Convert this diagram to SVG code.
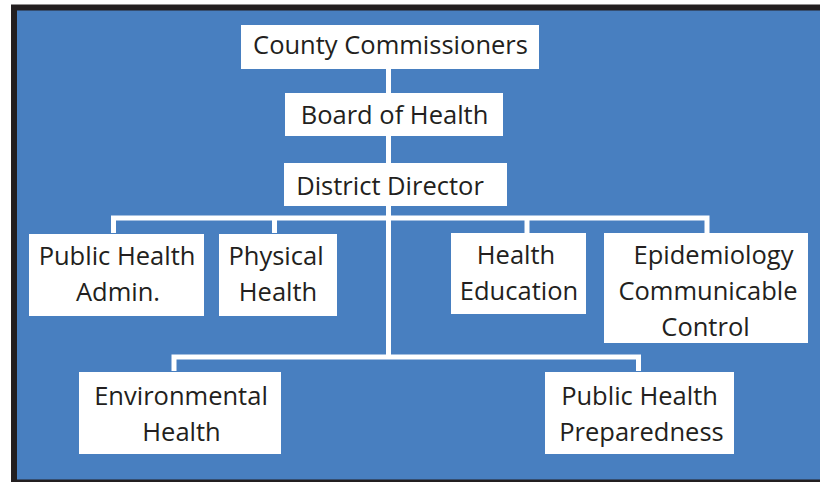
<svg xmlns="http://www.w3.org/2000/svg" width="820" height="482" viewBox="0 0 820 482">
<style>
.box{fill:#ffffff}
.t{font-family:"Open Sans","Noto Sans",sans-serif;font-size:25.5px;fill:#231F20;text-anchor:middle}
.c{fill:none;stroke:#ffffff;stroke-width:5;stroke-linejoin:miter;stroke-linecap:butt}
</style>
<rect x="14" y="7.5" width="820" height="475" fill="#487FC0" stroke="#231F20" stroke-width="6"/>
<g id="connectors">
<path class="c" d="M388.5 69 V93"/>
<path class="c" d="M388.5 136 V163"/>
<path class="c" d="M388.5 206 V357"/>
<path class="c" d="M113.5 233 V218 H707 V233"/>
<path class="c" d="M274.5 218 V233"/>
<path class="c" d="M527 218 V233"/>
<path class="c" d="M174 371 V357 H638.5 V371"/>
</g>
<g id="county">
<rect class="box" x="241" y="25" width="298" height="44"/>
<text class="t" x="390.5" y="54">County Commissioners</text>
</g>
<g id="board">
<rect class="box" x="285" y="93" width="218" height="43"/>
<text class="t" x="394.5" y="124">Board of Health</text>
</g>
<g id="director">
<rect class="box" x="284" y="163" width="223" height="43"/>
<text class="t" x="390" y="195">District Director</text>
</g>
<g id="ph-admin">
<rect class="box" x="29" y="234" width="175" height="82"/>
<text class="t" x="117" y="265">Public Health</text>
<text class="t" x="118" y="301">Admin.</text>
</g>
<g id="physical">
<rect class="box" x="219" y="234" width="118" height="82"/>
<text class="t" x="276" y="265">Physical</text>
<text class="t" x="278" y="301">Health</text>
</g>
<g id="education">
<rect class="box" x="451" y="233" width="135" height="81"/>
<text class="t" x="516" y="264">Health</text>
<text class="t" x="519" y="300">Education</text>
</g>
<g id="epidemiology">
<rect class="box" x="604" y="233" width="204" height="110"/>
<text class="t" x="713.5" y="264">Epidemiology</text>
<text class="t" x="708" y="300">Communicable</text>
<text class="t" x="705.5" y="336">Control</text>
</g>
<g id="environmental">
<rect class="box" x="79" y="372" width="202" height="82"/>
<text class="t" x="181" y="405">Environmental</text>
<text class="t" x="181.5" y="441">Health</text>
</g>
<g id="preparedness">
<rect class="box" x="545" y="372" width="189" height="82"/>
<text class="t" x="639.5" y="405">Public Health</text>
<text class="t" x="641.5" y="441">Preparedness</text>
</g>
</svg>
